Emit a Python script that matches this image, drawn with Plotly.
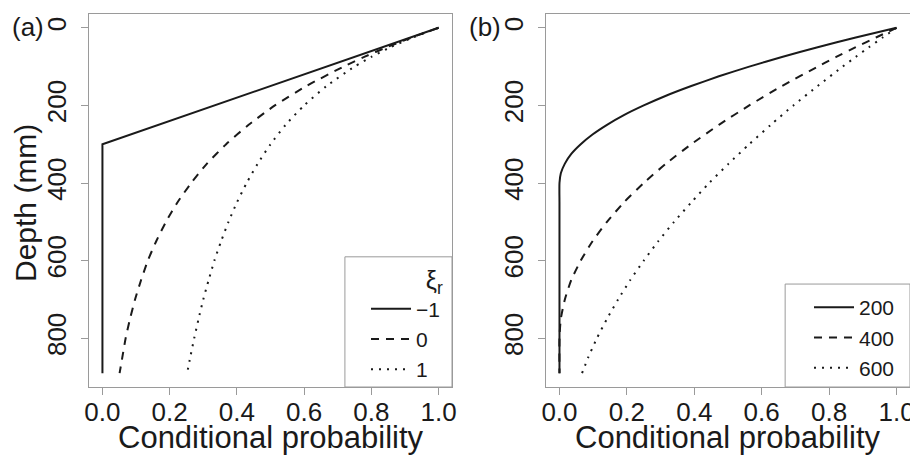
import plotly.graph_objects as go

# ---------------- data ----------------
depth_grid = [0, 25, 50, 75, 100, 150, 200, 250, 300, 350, 400, 450, 500,
              550, 600, 650, 700, 750, 800, 850, 890]

# panel (a): xi_r = -1, 0, 1
a_depth_m1 = [0, 300, 890]
a_prob_m1 = [1.0, 0.0, 0.0]
a_prob_0 = [1.0, 0.920, 0.846, 0.779, 0.717, 0.607, 0.513, 0.435, 0.368, 0.311,
            0.264, 0.223, 0.189, 0.160, 0.135, 0.115, 0.097, 0.082, 0.069, 0.059, 0.051]
a_prob_1 = [1.0, 0.923, 0.857, 0.800, 0.750, 0.667, 0.600, 0.545, 0.500, 0.462,
            0.429, 0.400, 0.375, 0.353, 0.333, 0.316, 0.300, 0.286, 0.273, 0.261, 0.252]

# panel (b): 200, 400, 600
b_depth_200 = [0, 25, 50, 75, 100, 125, 150, 175, 200, 225, 250, 275, 300, 325,
               350, 375, 400, 450, 500, 600, 700, 800, 890]
b_prob_200 = [1.0, 0.879, 0.766, 0.660, 0.563, 0.473, 0.391, 0.316, 0.250, 0.191,
              0.141, 0.098, 0.063, 0.035, 0.016, 0.004, 0.0, 0.0, 0.0, 0.0, 0.0, 0.0, 0.0]
b_depth_400 = [0, 25, 50, 75, 100, 150, 200, 250, 300, 350, 400, 450, 500, 550,
               600, 650, 700, 750, 800, 890]
b_prob_400 = [1.0, 0.939, 0.879, 0.821, 0.766, 0.660, 0.563, 0.473, 0.391, 0.316,
              0.250, 0.191, 0.141, 0.098, 0.063, 0.035, 0.016, 0.004, 0.0, 0.0]
b_prob_600 = [1.0, 0.959, 0.918, 0.879, 0.840, 0.766, 0.694, 0.627, 0.563, 0.502,
              0.444, 0.391, 0.340, 0.293, 0.250, 0.210, 0.174, 0.141, 0.111, 0.085, 0.067]

legend_a_labels = ["\u22121", "0", "1"]
legend_b_labels = ["200", "400", "600"]
x_ticks = [0.0, 0.2, 0.4, 0.6, 0.8, 1.0]
x_ticktext = ["0.0", "0.2", "0.4", "0.6", "0.8", "1.0"]
y_ticks = [0, 200, 400, 600, 800]

# ---------------- styling ----------------
OFF = 8                      # default page margin of the html body
FW, FH = 918 - OFF, 457 - OFF
FONT = "Liberation Sans, Arial, Helvetica, sans-serif"
INK = "#1a1a1a"
BOX = "#9a9a9a"
LW = 2
DASH = "8px,7px"
DOT = "2px,6px"

fig = go.Figure()

def add(x, y, name, dash, xa, ya, leg, shape="spline"):
    fig.add_trace(go.Scatter(
        x=x, y=y, name=name, mode="lines", xaxis=xa, yaxis=ya, legend=leg,
        line=dict(color=INK, width=LW, dash=dash, shape=shape, smoothing=0.6),
        hoverinfo="skip"))

add(a_prob_m1, a_depth_m1, legend_a_labels[0], "solid", "x", "y", "legend", "linear")
add(a_prob_0, depth_grid, legend_a_labels[1], DASH, "x", "y", "legend")
add(a_prob_1, depth_grid, legend_a_labels[2], DOT, "x", "y", "legend")
add(b_prob_200, b_depth_200, legend_b_labels[0], "solid", "x2", "y2", "legend2")
add(b_prob_400, b_depth_400, legend_b_labels[1], DASH, "x2", "y2", "legend2")
add(b_prob_600, depth_grid, legend_b_labels[2], DOT, "x2", "y2", "legend2")

def px_x(p):
    return (p - OFF) / FW

def px_y(p):
    return 1 - (p - OFF) / FH

axis_common = dict(
    showline=True, linecolor=BOX, linewidth=1, mirror=True,
    ticks="outside", ticklen=7, tickwidth=1, tickcolor=BOX,
    showgrid=False, zeroline=False, automargin=False,
)
tick_font = dict(family=FONT, size=26, color=INK)

ydom = [px_y(387), px_y(14)]
xrange = [-0.04, 1.04]
yrange = [925.6, -35.6]

fig.update_layout(
    width=FW, height=FH,
    margin=dict(l=0, r=0, t=0, b=0),
    paper_bgcolor="white", plot_bgcolor="white",
    font=dict(family=FONT, color=INK),
    hovermode=False,
    xaxis=dict(domain=[px_x(89), px_x(452)], range=xrange, anchor="y",
               tickvals=x_ticks, ticktext=x_ticktext, tickfont=tick_font,
               ticklabelstandoff=-5, **axis_common),
    yaxis=dict(domain=ydom, range=yrange, anchor="x", tickvals=y_ticks,
               tickangle=-90, tickfont=tick_font, ticklabelstandoff=5,
               **axis_common),
    xaxis2=dict(domain=[px_x(546), px_x(910)], range=xrange, anchor="y2",
                tickvals=x_ticks, ticktext=x_ticktext, tickfont=tick_font,
                ticklabelstandoff=-5, **axis_common),
    yaxis2=dict(domain=ydom, range=yrange, anchor="x2", tickvals=y_ticks,
                tickangle=-90, tickfont=tick_font, ticklabelstandoff=5,
                **axis_common),
    legend=dict(x=px_x(366), y=px_y(256), xanchor="left", yanchor="top",
                bgcolor="rgba(0,0,0,0)", borderwidth=0, itemwidth=40,
                tracegroupgap=0, font=dict(family=FONT, size=21, color=INK),
                title=dict(text="\u03be<sub>r</sub>", side="top right",
                           font=dict(family=FONT, size=25, color=INK))),
    legend2=dict(x=px_x(809), y=px_y(287), xanchor="left", yanchor="top",
                 bgcolor="rgba(0,0,0,0)", borderwidth=0, itemwidth=40,
                 tracegroupgap=0, font=dict(family=FONT, size=21, color=INK)),
    showlegend=True,
)

# legend frames (R style boxes in the lower-right corner of each panel)
fig.add_shape(type="rect", xref="x domain", yref="y domain",
              x0=0.705, x1=1.0, y0=0.0, y1=0.349,
              line=dict(color=BOX, width=1), fillcolor="white", layer="below")
fig.add_shape(type="rect", xref="x2 domain", yref="y2 domain",
              x0=0.657, x1=1.0, y0=0.0, y1=0.276,
              line=dict(color=BOX, width=1), fillcolor="white", layer="below")

# axis titles and panel labels
fig.add_annotation(text="Conditional probability", xref="x domain", yref="paper",
                   x=0.5, y=px_y(437), xanchor="center", yanchor="middle",
                   showarrow=False, font=dict(family=FONT, size=31, color=INK))
fig.add_annotation(text="Conditional probability", xref="x2 domain", yref="paper",
                   x=0.5, y=px_y(437), xanchor="center", yanchor="middle",
                   showarrow=False, font=dict(family=FONT, size=31, color=INK))
fig.add_annotation(text="Depth (mm)", xref="paper", yref="paper",
                   x=px_x(25), y=px_y(203), xanchor="center", yanchor="middle",
                   textangle=-90, showarrow=False,
                   font=dict(family=FONT, size=30, color=INK))
fig.add_annotation(text="(a)", xref="paper", yref="paper",
                   x=px_x(28), y=px_y(27), xanchor="center", yanchor="middle",
                   showarrow=False, font=dict(family=FONT, size=26, color=INK))
fig.add_annotation(text="(b)", xref="paper", yref="paper",
                   x=px_x(485), y=px_y(27), xanchor="center", yanchor="middle",
                   showarrow=False, font=dict(family=FONT, size=26, color=INK))

fig.write_html("out.html")
